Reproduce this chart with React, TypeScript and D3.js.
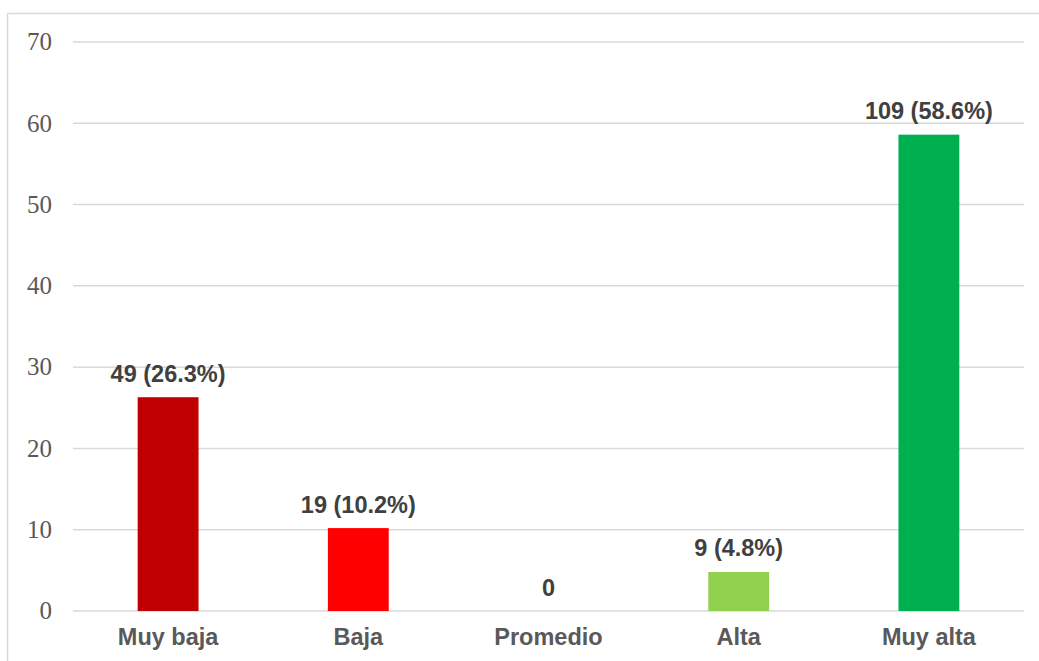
import React from "react";
import * as d3 from "d3";

const categories = ["Muy baja", "Baja", "Promedio", "Alta", "Muy alta"];
const counts = [49, 19, 0, 9, 109];
const percents = [26.3, 10.2, 0, 4.8, 58.6];
const labels = ["49 (26.3%)", "19 (10.2%)", "0", "9 (4.8%)", "109 (58.6%)"];
const colors = ["#C00000", "#FF0000", "#A5A5A5", "#92D050", "#00B050"];
const yTicks = [0, 10, 20, 30, 40, 50, 60, 70];

export default function App() {
  const W = 1039, H = 661;
  const left = 73, right = 1024, top = 42, bottom = 611;
  const x = d3.scaleBand().domain(categories).range([left, right]).paddingInner(0.68).paddingOuter(0.34);
  const y = d3.scaleLinear().domain([0, 70]).range([bottom, top]);
  return (
    <svg width={W} height={H} style={{ position: "absolute", left: 0, top: 0 }}>
      <rect x={0} y={0} width={W} height={H} fill="#fff" />
      <rect x={7.5} y={13.5} width={W + 10} height={H + 10} fill="none" stroke="#d9d9d9" strokeWidth={1.5} />
      {yTicks.map((t) => (
        <g key={t}>
          <line x1={left} x2={right} y1={y(t)} y2={y(t)} stroke="#d9d9d9" strokeWidth={1.5} />
          <text x={52} y={y(t)} dy="0.33em" textAnchor="end" fontFamily="'Liberation Serif', serif" fontSize={25} fill="#595959">{t}</text>
        </g>
      ))}
      {categories.map((c, i) => (
        <g key={c}>
          {percents[i] > 0 && (
            <rect x={x(c)!} y={y(percents[i])} width={x.bandwidth()} height={bottom - y(percents[i])} fill={colors[i]} />
          )}
          <text x={x(c)! + x.bandwidth() / 2} y={y(percents[i]) - 15.5} textAnchor="middle" fontFamily="'Liberation Sans', Arial, sans-serif" fontWeight="bold" fontSize={23.5} fill="#404040">{labels[i]}</text>
          <text x={x(c)! + x.bandwidth() / 2} y={645} textAnchor="middle" fontFamily="'Liberation Sans', Arial, sans-serif" fontWeight="bold" fontSize={23.5} fill="#595959">{c}</text>
        </g>
      ))}
    </svg>
  );
}
